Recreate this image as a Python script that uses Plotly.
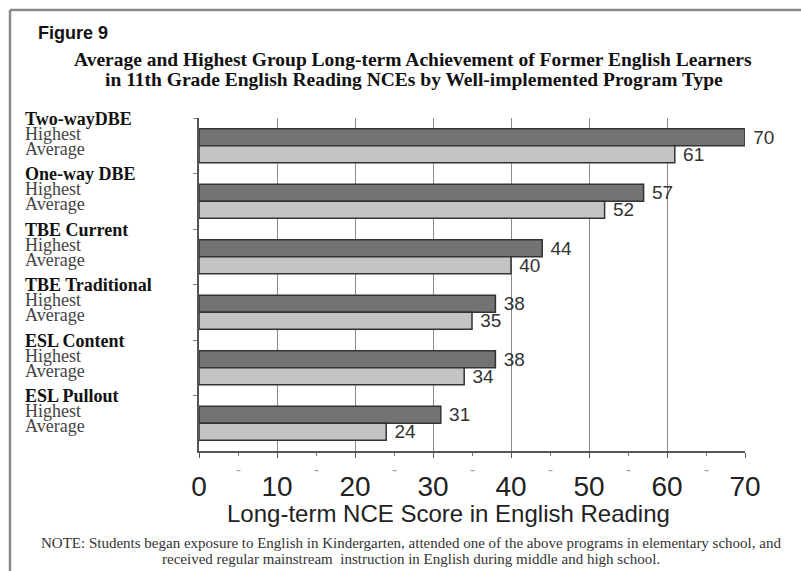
import plotly.graph_objects as go

# ---- data ----
programs = ["Two-wayDBE", "One-way DBE", "TBE Current", "TBE Traditional", "ESL Content", "ESL Pullout"]
highest = [70, 57, 44, 38, 38, 31]
average = [61, 52, 40, 35, 34, 24]
x_ticks = [0, 10, 20, 30, 40, 50, 60, 70]
grid_vals = [10, 20, 30, 40, 50, 60]
minor_marks = [-5, 5, 15, 25, 35, 45, 55, 65]

W, H = 801, 571
L, R, T, B = 199, 745, 118, 451

def px_x(px):
    return (px - L) / (R - L)

def px_y(py):
    return (B - py) / (B - T)

fig = go.Figure()
fig.add_trace(go.Bar(
    y=programs, x=highest, orientation="h", name="Highest",
    marker=dict(color="#737373", line=dict(color="#333333", width=1.5)),
    text=highest, texttemplate=" %{x}", textposition="outside", constraintext="none", cliponaxis=False,
    textfont=dict(family="Arial, Liberation Sans", size=19, color="#333333"),
))
fig.add_trace(go.Bar(
    y=programs, x=average, orientation="h", name="Average",
    marker=dict(color="#c4c4c4", line=dict(color="#333333", width=1.5)),
    text=average, texttemplate=" %{x}", textposition="outside", constraintext="none", cliponaxis=False,
    textfont=dict(family="Arial, Liberation Sans", size=19, color="#333333"),
))

ann = []
serif = "Liberation Serif, Times New Roman, serif"
for p in programs:
    ann.append(dict(x=px_x(23), xref="paper", y=p, yref="y", yshift=27,
                    text="<b>%s</b>" % p, showarrow=False, xanchor="left", yanchor="middle",
                    font=dict(family=serif, size=18, color="#111111")))
    ann.append(dict(x=px_x(23), xref="paper", y=p, yref="y", yshift=12,
                    text="Highest", showarrow=False, xanchor="left", yanchor="middle",
                    font=dict(family=serif, size=18, color="#444444")))
    ann.append(dict(x=px_x(23), xref="paper", y=p, yref="y", yshift=-3,
                    text="Average", showarrow=False, xanchor="left", yanchor="middle",
                    font=dict(family=serif, size=18, color="#444444")))

for m in minor_marks:
    ann.append(dict(x=m, xref="x", y=px_y(480), yref="paper",
                    text="." if m < 0 else "-", showarrow=False,
                    font=dict(family="Arial", size=15, color="#999999")))

ann.append(dict(x=px_x(36), xref="paper", y=px_y(33), yref="paper", text="<b>Figure 9</b>",
                showarrow=False, xanchor="left", yanchor="middle",
                font=dict(family="Arial, Liberation Sans", size=18, color="#111111")))
ann.append(dict(x=px_x(413), xref="paper", y=px_y(59), yref="paper",
                text="<b>Average and Highest Group Long-term Achievement of Former English Learners</b>",
                showarrow=False, xanchor="center", yanchor="middle",
                font=dict(family=serif, size=19.5, color="#111111")))
ann.append(dict(x=px_x(414), xref="paper", y=px_y(80), yref="paper",
                text="<b>in 11th Grade English Reading NCEs by Well-implemented Program Type</b>",
                showarrow=False, xanchor="center", yanchor="middle",
                font=dict(family=serif, size=19.5, color="#111111")))
ann.append(dict(x=px_x(448), xref="paper", y=px_y(513), yref="paper",
                text="Long-term NCE Score in English Reading",
                showarrow=False, xanchor="center", yanchor="middle",
                font=dict(family="Arial, Liberation Sans", size=24, color="#222222")))
ann.append(dict(x=px_x(411), xref="paper", y=px_y(543), yref="paper",
                text="NOTE: Students began exposure to English in Kindergarten, attended one of the above programs in elementary school, and",
                showarrow=False, xanchor="center", yanchor="middle",
                font=dict(family=serif, size=15, color="#333333")))
ann.append(dict(x=px_x(411), xref="paper", y=px_y(559), yref="paper",
                text="received regular mainstream  instruction in English during middle and high school.",
                showarrow=False, xanchor="center", yanchor="middle",
                font=dict(family=serif, size=15, color="#333333")))

shapes = [
    dict(type="line", xref="paper", yref="paper", x0=px_x(10), x1=px_x(801), y0=px_y(10), y1=px_y(10),
         line=dict(color="#8a8a8a", width=2.5)),
    dict(type="line", xref="paper", yref="paper", x0=px_x(10), x1=px_x(10), y0=px_y(10), y1=px_y(571),
         line=dict(color="#8a8a8a", width=2.5)),
]

fig.update_layout(
    width=W, height=H, margin=dict(l=L, r=W - R, t=T, b=H - B),
    paper_bgcolor="white", plot_bgcolor="white",
    barmode="group", bargap=0.385, bargroupgap=0,
    showlegend=False, annotations=ann, shapes=shapes,
    xaxis=dict(range=[0, 70], tickvals=x_ticks, showgrid=False,
               showline=True, linecolor="#555555", linewidth=1.5, zeroline=False,
               ticks="outside", ticklen=5, tickcolor="#555555",
               minor=dict(dtick=5, ticks="outside", ticklen=3, tickcolor="#777777", showgrid=False),
               tickfont=dict(family="Arial, Liberation Sans", size=28, color="#222222"),
               ticklabelstandoff=5),
    xaxis2=dict(range=[0, 70], overlaying="x", side="top", tickvals=grid_vals, showgrid=True,
                gridcolor="#8c8c8c", gridwidth=1, showticklabels=False, ticks="",
                showline=False, zeroline=False),
    yaxis=dict(autorange=False, range=[5.5, -0.5], showticklabels=False, showgrid=False,
               showline=True, linecolor="#555555", linewidth=1.5,
               ticks="outside", tickson="boundaries", ticklen=4, tickcolor="#888888"),
)
# invisible trace that activates the grid axis
fig.add_trace(go.Scatter(x=[0], y=[programs[0]], xaxis="x2", mode="markers",
                         marker=dict(opacity=0), hoverinfo="skip", showlegend=False))

fig.write_html("out.html")
